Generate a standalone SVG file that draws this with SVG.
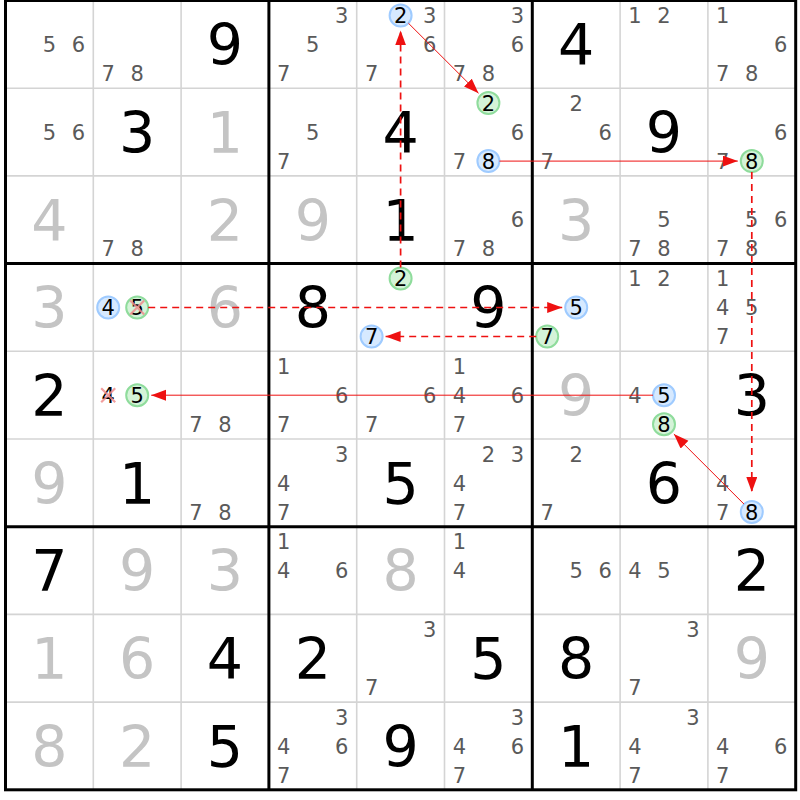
<svg xmlns="http://www.w3.org/2000/svg" width="800" height="800" viewBox="0 0 800 800">
<style>
text{font-family:"DejaVu Sans","Liberation Sans",sans-serif;text-anchor:middle}
.c{font-size:21px;fill:#5a5a5a}
.k{font-size:21px;fill:#000}
.g{font-size:57px;fill:#000}
.s{font-size:57px;fill:#c4c4c4}
.thin{stroke:#d4d4d4;stroke-width:1.6}
.thick{stroke:#000;stroke-width:3}
.cb{fill:#d6e9ff;stroke:#9fcbff;stroke-width:2}
.cg{fill:#d4f3d8;stroke:#8fdc9c;stroke-width:2}
.x{stroke:#f08c8c;stroke-width:2.2;opacity:0.85}
.l{stroke:#ee1111;fill:none;stroke-width:1}
.d{stroke:#ee1111;fill:none;stroke-width:1.7;stroke-dasharray:7,5}
</style>
<defs>
<marker id="ah" markerUnits="userSpaceOnUse" markerWidth="16" markerHeight="12" refX="15" refY="5.5" orient="auto">
<path d="M0,0 L15,5.5 L0,11 z" fill="#ee1111"/>
</marker>
</defs>
<rect width="800" height="800" fill="#fff"/>
<g id="grid">
<g class="thin">
<line x1="93.3" y1="0.5" x2="93.3" y2="789.8"/><line x1="181.1" y1="0.5" x2="181.1" y2="789.8"/>
<line x1="356.7" y1="0.5" x2="356.7" y2="789.8"/><line x1="444.5" y1="0.5" x2="444.5" y2="789.8"/>
<line x1="620.1" y1="0.5" x2="620.1" y2="789.8"/><line x1="707.9" y1="0.5" x2="707.9" y2="789.8"/>
<line x1="5.5" y1="88.2" x2="795.7" y2="88.2"/><line x1="5.5" y1="175.9" x2="795.7" y2="175.9"/>
<line x1="5.5" y1="351.3" x2="795.7" y2="351.3"/><line x1="5.5" y1="439" x2="795.7" y2="439"/>
<line x1="5.5" y1="614.4" x2="795.7" y2="614.4"/><line x1="5.5" y1="702.1" x2="795.7" y2="702.1"/>
</g>
<g class="thick">
<line x1="268.9" y1="0.5" x2="268.9" y2="789.8"/><line x1="532.3" y1="0.5" x2="532.3" y2="789.8"/>
<line x1="5.5" y1="263.6" x2="795.7" y2="263.6"/><line x1="5.5" y1="526.7" x2="795.7" y2="526.7"/>
<rect x="5.5" y="0.5" width="790.2" height="789.3" fill="none"/>
</g>
</g>
<g id="cells">
<!-- Row 0 -->
<g id="r0c0"><text class="c" x="49.4" y="52">5</text><text class="c" x="78.4" y="52">6</text></g>
<g id="r0c1"><text class="c" x="108.2" y="81">7</text><text class="c" x="137.2" y="81">8</text></g>
<g id="r0c2"><text class="g" x="225" y="65.2">9</text></g>
<g id="r0c3"><text class="c" x="341.8" y="23">3</text><text class="c" x="312.8" y="52">5</text><text class="c" x="283.8" y="81">7</text></g>
<g id="r0c4"><circle class="cb" cx="400.6" cy="15.4" r="11"/><text class="k" x="400.6" y="23">2</text><text class="c" x="429.6" y="23">3</text><text class="c" x="429.6" y="52">6</text><text class="c" x="371.6" y="81">7</text></g>
<g id="r0c5"><text class="c" x="517.4" y="23">3</text><text class="c" x="517.4" y="52">6</text><text class="c" x="459.4" y="81">7</text><text class="c" x="488.4" y="81">8</text></g>
<g id="r0c6"><text class="g" x="576.2" y="65.2">4</text></g>
<g id="r0c7"><text class="c" x="635" y="23">1</text><text class="c" x="664" y="23">2</text></g>
<g id="r0c8"><text class="c" x="722.8" y="23">1</text><text class="c" x="780.8" y="52">6</text><text class="c" x="722.8" y="81">7</text><text class="c" x="751.8" y="81">8</text></g>
<!-- Row 1 -->
<g id="r1c0"><text class="c" x="49.4" y="139.7">5</text><text class="c" x="78.4" y="139.7">6</text></g>
<g id="r1c1"><text class="g" x="137.2" y="152.9">3</text></g>
<g id="r1c2"><text class="s" x="225" y="152.9">1</text></g>
<g id="r1c3"><text class="c" x="312.8" y="139.7">5</text><text class="c" x="283.8" y="168.7">7</text></g>
<g id="r1c4"><text class="g" x="400.6" y="152.9">4</text></g>
<g id="r1c5"><circle class="cg" cx="488.4" cy="103.1" r="11"/><text class="k" x="488.4" y="110.7">2</text><text class="c" x="517.4" y="139.7">6</text><text class="c" x="459.4" y="168.7">7</text><circle class="cb" cx="488.4" cy="161.1" r="11"/><text class="k" x="488.4" y="168.7">8</text></g>
<g id="r1c6"><text class="c" x="576.2" y="110.7">2</text><text class="c" x="605.2" y="139.7">6</text><text class="c" x="547.2" y="168.7">7</text></g>
<g id="r1c7"><text class="g" x="664" y="152.9">9</text></g>
<g id="r1c8"><text class="c" x="780.8" y="139.7">6</text><text class="c" x="722.8" y="168.7">7</text><circle class="cg" cx="751.8" cy="161.1" r="11"/><text class="k" x="751.8" y="168.7">8</text></g>
<!-- Row 2 -->
<g id="r2c0"><text class="s" x="49.4" y="240.6">4</text></g>
<g id="r2c1"><text class="c" x="108.2" y="256.4">7</text><text class="c" x="137.2" y="256.4">8</text></g>
<g id="r2c2"><text class="s" x="225" y="240.6">2</text></g>
<g id="r2c3"><text class="s" x="312.8" y="240.6">9</text></g>
<g id="r2c4"><text class="g" x="400.6" y="240.6">1</text></g>
<g id="r2c5"><text class="c" x="517.4" y="227.4">6</text><text class="c" x="459.4" y="256.4">7</text><text class="c" x="488.4" y="256.4">8</text></g>
<g id="r2c6"><text class="s" x="576.2" y="240.6">3</text></g>
<g id="r2c7"><text class="c" x="664" y="227.4">5</text><text class="c" x="635" y="256.4">7</text><text class="c" x="664" y="256.4">8</text></g>
<g id="r2c8"><text class="c" x="751.8" y="227.4">5</text><text class="c" x="780.8" y="227.4">6</text><text class="c" x="722.8" y="256.4">7</text><text class="c" x="751.8" y="256.4">8</text></g>
<!-- Row 3 -->
<g id="r3c0"><text class="s" x="49.4" y="328.3">3</text></g>
<g id="r3c1"><circle class="cb" cx="108.2" cy="307.5" r="11"/><text class="k" x="108.2" y="315.1">4</text><circle class="cg" cx="137.2" cy="307.5" r="11"/><text class="k" x="137.2" y="315.1">5</text><path class="x" d="M130.2,300.5 L144.2,314.5 M144.2,300.5 L130.2,314.5"/></g>
<g id="r3c2"><text class="s" x="225" y="328.3">6</text></g>
<g id="r3c3"><text class="g" x="312.8" y="328.3">8</text></g>
<g id="r3c4"><circle class="cg" cx="400.6" cy="278.5" r="11"/><text class="k" x="400.6" y="286.1">2</text><circle class="cb" cx="371.6" cy="336.5" r="11"/><text class="k" x="371.6" y="344.1">7</text></g>
<g id="r3c5"><text class="g" x="488.4" y="328.3">9</text></g>
<g id="r3c6"><circle class="cb" cx="576.2" cy="307.5" r="11"/><text class="k" x="576.2" y="315.1">5</text><circle class="cg" cx="547.2" cy="336.5" r="11"/><text class="k" x="547.2" y="344.1">7</text></g>
<g id="r3c7"><text class="c" x="635" y="286.1">1</text><text class="c" x="664" y="286.1">2</text></g>
<g id="r3c8"><text class="c" x="722.8" y="286.1">1</text><text class="c" x="722.8" y="315.1">4</text><text class="c" x="751.8" y="315.1">5</text><text class="c" x="722.8" y="344.1">7</text></g>
<!-- Row 4 -->
<g id="r4c0"><text class="g" x="49.4" y="416">2</text></g>
<g id="r4c1"><text class="k" x="108.2" y="402.8">4</text><path class="x" d="M101.2,388.2 L115.2,402.2 M115.2,388.2 L101.2,402.2"/><circle class="cg" cx="137.2" cy="395.2" r="11"/><text class="k" x="137.2" y="402.8">5</text></g>
<g id="r4c2"><text class="c" x="196" y="431.8">7</text><text class="c" x="225" y="431.8">8</text></g>
<g id="r4c3"><text class="c" x="283.8" y="373.8">1</text><text class="c" x="341.8" y="402.8">6</text><text class="c" x="283.8" y="431.8">7</text></g>
<g id="r4c4"><text class="c" x="429.6" y="402.8">6</text><text class="c" x="371.6" y="431.8">7</text></g>
<g id="r4c5"><text class="c" x="459.4" y="373.8">1</text><text class="c" x="459.4" y="402.8">4</text><text class="c" x="517.4" y="402.8">6</text><text class="c" x="459.4" y="431.8">7</text></g>
<g id="r4c6"><text class="s" x="576.2" y="416">9</text></g>
<g id="r4c7"><text class="c" x="635" y="402.8">4</text><circle class="cb" cx="664" cy="395.2" r="11"/><text class="k" x="664" y="402.8">5</text><circle class="cg" cx="664" cy="424.2" r="11"/><text class="k" x="664" y="431.8">8</text></g>
<g id="r4c8"><text class="g" x="751.8" y="416">3</text></g>
<!-- Row 5 -->
<g id="r5c0"><text class="s" x="49.4" y="503.7">9</text></g>
<g id="r5c1"><text class="g" x="137.2" y="503.7">1</text></g>
<g id="r5c2"><text class="c" x="196" y="519.5">7</text><text class="c" x="225" y="519.5">8</text></g>
<g id="r5c3"><text class="c" x="341.8" y="461.5">3</text><text class="c" x="283.8" y="490.5">4</text><text class="c" x="283.8" y="519.5">7</text></g>
<g id="r5c4"><text class="g" x="400.6" y="503.7">5</text></g>
<g id="r5c5"><text class="c" x="488.4" y="461.5">2</text><text class="c" x="517.4" y="461.5">3</text><text class="c" x="459.4" y="490.5">4</text><text class="c" x="459.4" y="519.5">7</text></g>
<g id="r5c6"><text class="c" x="576.2" y="461.5">2</text><text class="c" x="547.2" y="519.5">7</text></g>
<g id="r5c7"><text class="g" x="664" y="503.7">6</text></g>
<g id="r5c8"><text class="c" x="722.8" y="490.5">4</text><text class="c" x="722.8" y="519.5">7</text><circle class="cb" cx="751.8" cy="511.9" r="11"/><text class="k" x="751.8" y="519.5">8</text></g>
<!-- Row 6 -->
<g id="r6c0"><text class="g" x="49.4" y="591.4">7</text></g>
<g id="r6c1"><text class="s" x="137.2" y="591.4">9</text></g>
<g id="r6c2"><text class="s" x="225" y="591.4">3</text></g>
<g id="r6c3"><text class="c" x="283.8" y="549.2">1</text><text class="c" x="283.8" y="578.2">4</text><text class="c" x="341.8" y="578.2">6</text></g>
<g id="r6c4"><text class="s" x="400.6" y="591.4">8</text></g>
<g id="r6c5"><text class="c" x="459.4" y="549.2">1</text><text class="c" x="459.4" y="578.2">4</text></g>
<g id="r6c6"><text class="c" x="576.2" y="578.2">5</text><text class="c" x="605.2" y="578.2">6</text></g>
<g id="r6c7"><text class="c" x="635" y="578.2">4</text><text class="c" x="664" y="578.2">5</text></g>
<g id="r6c8"><text class="g" x="751.8" y="591.4">2</text></g>
<!-- Row 7 -->
<g id="r7c0"><text class="s" x="49.4" y="679.1">1</text></g>
<g id="r7c1"><text class="s" x="137.2" y="679.1">6</text></g>
<g id="r7c2"><text class="g" x="225" y="679.1">4</text></g>
<g id="r7c3"><text class="g" x="312.8" y="679.1">2</text></g>
<g id="r7c4"><text class="c" x="429.6" y="636.9">3</text><text class="c" x="371.6" y="694.9">7</text></g>
<g id="r7c5"><text class="g" x="488.4" y="679.1">5</text></g>
<g id="r7c6"><text class="g" x="576.2" y="679.1">8</text></g>
<g id="r7c7"><text class="c" x="693" y="636.9">3</text><text class="c" x="635" y="694.9">7</text></g>
<g id="r7c8"><text class="s" x="751.8" y="679.1">9</text></g>
<!-- Row 8 -->
<g id="r8c0"><text class="s" x="49.4" y="766.8">8</text></g>
<g id="r8c1"><text class="s" x="137.2" y="766.8">2</text></g>
<g id="r8c2"><text class="g" x="225" y="766.8">5</text></g>
<g id="r8c3"><text class="c" x="341.8" y="724.6">3</text><text class="c" x="283.8" y="753.6">4</text><text class="c" x="341.8" y="753.6">6</text><text class="c" x="283.8" y="782.6">7</text></g>
<g id="r8c4"><text class="g" x="400.6" y="766.8">9</text></g>
<g id="r8c5"><text class="c" x="517.4" y="724.6">3</text><text class="c" x="459.4" y="753.6">4</text><text class="c" x="517.4" y="753.6">6</text><text class="c" x="459.4" y="782.6">7</text></g>
<g id="r8c6"><text class="g" x="576.2" y="766.8">1</text></g>
<g id="r8c7"><text class="c" x="693" y="724.6">3</text><text class="c" x="635" y="753.6">4</text><text class="c" x="635" y="782.6">7</text></g>
<g id="r8c8"><text class="c" x="722.8" y="753.6">4</text><text class="c" x="780.8" y="753.6">6</text><text class="c" x="722.8" y="782.6">7</text></g>
</g>
<g id="connectors">
<path class="d" d="M400.6,267.5 L400.6,30.4" marker-end="url(#ah)"/>
<path class="l" d="M408.4,23.2 L478.5,93.2" marker-end="url(#ah)"/>
<path class="l" d="M499.4,161.1 L737.8,161.1" marker-end="url(#ah)"/>
<path class="d" d="M751.8,172.1 L751.8,492" marker-end="url(#ah)"/>
<path class="l" d="M744,504.1 L673.9,434.1" marker-end="url(#ah)"/>
<path class="l" d="M653,395.2 L151.2,395.2" marker-end="url(#ah)"/>
<path class="d" d="M148.2,307.5 L562.2,307.5" marker-end="url(#ah)"/>
<path class="d" d="M536.2,336.5 L385.6,336.5" marker-end="url(#ah)"/>
</g>
</svg>
